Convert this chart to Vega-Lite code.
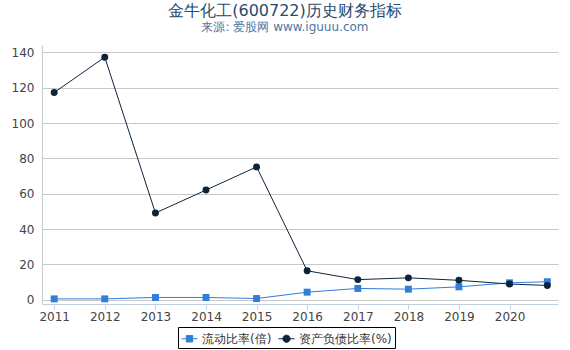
{
  "$schema": "https://vega.github.io/schema/vega-lite/v6.json",
  "width": 516,
  "height": 259,
  "autosize": {"type": "none"},
  "padding": {"left": 42, "top": 45, "right": 12, "bottom": 46},
  "background": "white",
  "title": {
    "text": "金牛化工(600722)历史财务指标",
    "subtitle": "来源: 爱股网 www.iguuu.com",
    "anchor": "middle",
    "frame": "group",
    "dx": -15,
    "offset": 12,
    "font": "DejaVu Sans",
    "fontSize": 16,
    "fontWeight": "normal",
    "color": "#274b6d",
    "subtitleFont": "DejaVu Sans",
    "subtitleFontSize": 12,
    "subtitleColor": "#4d759e",
    "subtitlePadding": 3
  },
  "data": {
    "values": [
      {"date": "2011-01-01", "series": "流动比率(倍)", "value": 0.5},
      {"date": "2012-01-01", "series": "流动比率(倍)", "value": 0.5},
      {"date": "2013-01-01", "series": "流动比率(倍)", "value": 1.3},
      {"date": "2014-01-01", "series": "流动比率(倍)", "value": 1.3},
      {"date": "2015-01-01", "series": "流动比率(倍)", "value": 0.7},
      {"date": "2016-01-01", "series": "流动比率(倍)", "value": 4.3},
      {"date": "2017-01-01", "series": "流动比率(倍)", "value": 6.4},
      {"date": "2018-01-01", "series": "流动比率(倍)", "value": 6.0},
      {"date": "2019-01-01", "series": "流动比率(倍)", "value": 7.3},
      {"date": "2020-01-01", "series": "流动比率(倍)", "value": 9.6},
      {"date": "2020-09-30", "series": "流动比率(倍)", "value": 10.2},
      {"date": "2011-01-01", "series": "资产负债比率(%)", "value": 117.3},
      {"date": "2012-01-01", "series": "资产负债比率(%)", "value": 137.3},
      {"date": "2013-01-01", "series": "资产负债比率(%)", "value": 49.1},
      {"date": "2014-01-01", "series": "资产负债比率(%)", "value": 62.1},
      {"date": "2015-01-01", "series": "资产负债比率(%)", "value": 75.2},
      {"date": "2016-01-01", "series": "资产负债比率(%)", "value": 16.4},
      {"date": "2017-01-01", "series": "资产负债比率(%)", "value": 11.4},
      {"date": "2018-01-01", "series": "资产负债比率(%)", "value": 12.4},
      {"date": "2019-01-01", "series": "资产负债比率(%)", "value": 11.0},
      {"date": "2020-01-01", "series": "资产负债比率(%)", "value": 8.9},
      {"date": "2020-09-30", "series": "资产负债比率(%)", "value": 8.1}
    ]
  },
  "encoding": {
    "x": {
      "field": "date",
      "type": "temporal",
      "title": null,
      "scale": {
        "domain": [
          {"year": 2010, "month": 10, "date": 5},
          {"year": 2020, "month": 12, "date": 16}
        ]
      },
      "axis": {
        "format": "%Y",
        "tickCount": {"interval": "year", "step": 1},
        "grid": false,
        "domainColor": "#C0D0E0",
        "tickColor": "#C0D0E0",
        "tickSize": 5,
        "labelFont": "DejaVu Sans",
        "labelFontSize": 12,
        "labelColor": "#444",
        "labelPadding": 2,
        "labelFlush": false,
        "labelOverlap": false
      }
    },
    "y": {
      "field": "value",
      "type": "quantitative",
      "title": null,
      "scale": {"domain": [-2.4, 144.2], "nice": false, "zero": false},
      "axis": {
        "values": [0, 20, 40, 60, 80, 100, 120, 140],
        "gridColor": "#C8C8C8",
        "domainColor": "#C8C8C8",
        "ticks": false,
        "labelPadding": 8,
        "labelFont": "DejaVu Sans",
        "labelFontSize": 12,
        "labelColor": "#444"
      }
    },
    "color": {
      "field": "series",
      "type": "nominal",
      "scale": {
        "domain": ["流动比率(倍)", "资产负债比率(%)"],
        "range": ["#2f7ed8", "#0d233a"]
      }
    }
  },
  "layer": [
    {
      "mark": {"type": "line", "strokeWidth": 1}
    },
    {
      "mark": {"type": "point", "filled": true, "size": 48, "opacity": 1},
      "encoding": {
        "shape": {
          "condition": {"test": "datum.series === '流动比率(倍)'", "value": "square"},
          "value": "circle"
        }
      }
    },
    {
      "mark": {"type": "point", "filled": true, "opacity": 0, "strokeWidth": 1},
      "encoding": {
        "stroke": {
          "field": "series",
          "type": "nominal",
          "scale": {
            "domain": ["流动比率(倍)", "资产负债比率(%)"],
            "range": ["#2f7ed8", "#0d233a"]
          }
        },
        "shape": {
          "field": "series",
          "type": "nominal",
          "scale": {
            "domain": ["流动比率(倍)", "资产负债比率(%)"],
            "range": [
              "M-1,0H-0.4M0.4,0H1M-0.4,-0.4H0.4V0.4H-0.4Z",
              "M-1,0H-0.45M0.45,0H1M0.45,0A0.45,0.45 0 1,1 -0.45,0A0.45,0.45 0 1,1 0.45,0Z"
            ]
          }
        }
      }
    }
  ],
  "config": {
    "view": {"stroke": null},
    "legend": {
      "orient": "none",
      "legendX": 136,
      "legendY": 282,
      "direction": "horizontal",
      "title": null,
      "strokeColor": "black",
      "padding": 3,
      "symbolSize": 256,
      "symbolStrokeWidth": 1,
      "symbolOpacity": 1,
      "labelFont": "DejaVu Sans",
      "labelFontSize": 12,
      "labelColor": "#333",
      "columnPadding": 4,
      "labelOffset": 4
    }
  }
}
